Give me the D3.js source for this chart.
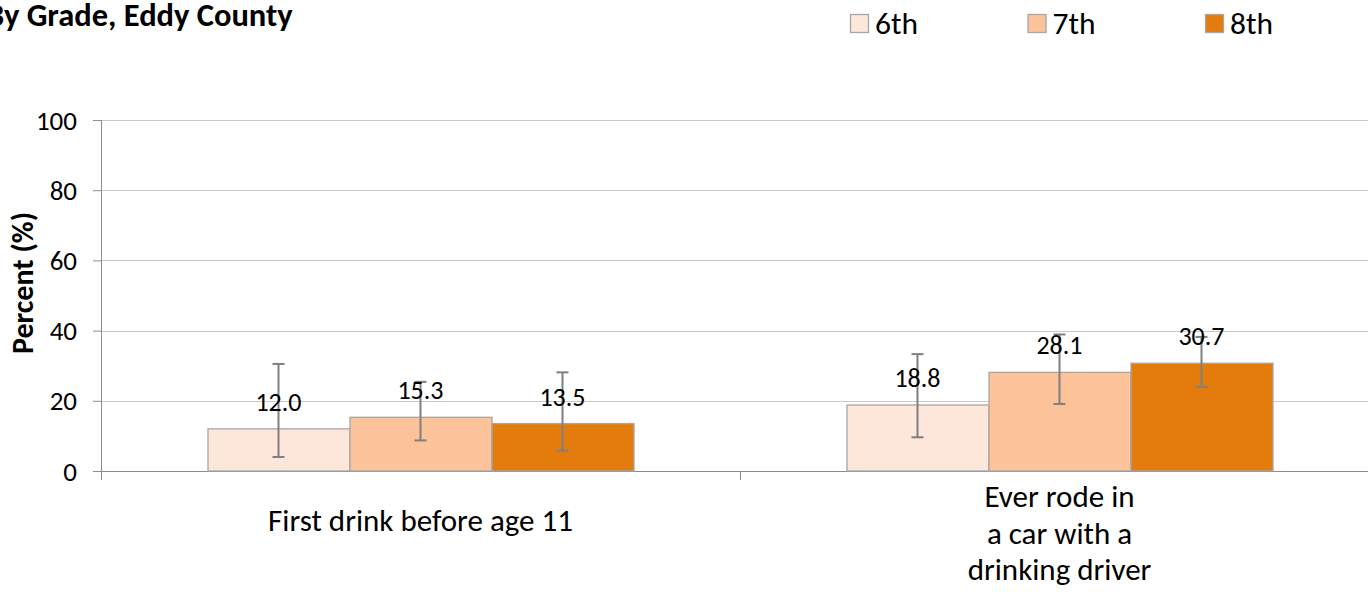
<!DOCTYPE html>
<html>
<head>
<meta charset="utf-8">
<script src="https://cdn.jsdelivr.net/npm/d3@7"></script>
<style>
  body { margin: 0; background: #fff; overflow: hidden; }
  svg text { font-family: Carlito, Calibri, Lato, "Open Sans", sans-serif; fill: #000; }
</style>
</head>
<body>
<div id="chart"></div>
<script>
// data
const categories = ["First drink before age 11", "Ever rode in a car with a drinking driver"];
const categoryLines = [["First drink before age 11"], ["Ever rode in", "a car with a", "drinking driver"]];
const grades = ["6th", "7th", "8th"];
const values = [[12.0, 15.3, 13.5], [18.8, 28.1, 30.7]];
const lowerCI = [[4.0, 8.7, 5.8], [9.6, 19.1, 24.0]];
const upperCI = [[30.5, 25.4, 28.1], [33.3, 38.9, 38.2]];
const yTicks = [0, 20, 40, 60, 80, 100];
const colors = ["#fde6da", "#fcc39a", "#e37c0c"];

const W = 1368, H = 606;
const margin = { top: 120, left: 101, bottom: 135 };
const plotW = 1278, plotH = H - margin.top - margin.bottom;

const svg = d3.select("#chart").append("svg")
    .attr("width", W)
    .attr("height", H);

const g = svg.append("g")
    .attr("transform", "translate(" + margin.left + "," + margin.top + ")");

// scales
const x = d3.scaleBand()
    .domain(categories)
    .range([0, plotW]);

const xInner = d3.scaleBand()
    .domain(grades)
    .range([0, x.bandwidth() * 2 / 3]);

const y = d3.scaleLinear()
    .domain([0, 100])
    .range([plotH, 0]);

// gridlines
g.append("g")
    .selectAll("line")
    .data(yTicks.filter(d => d > 0))
    .join("line")
    .attr("x1", 0)
    .attr("x2", plotW)
    .attr("y1", d => Math.round(y(d)) + 0.5)
    .attr("y2", d => Math.round(y(d)) + 0.5)
    .attr("stroke", "#c8c8c8")
    .attr("stroke-width", 1);

// y axis
const yAxis = d3.axisLeft(y).tickValues(yTicks).tickSize(8).tickPadding(16);
const yG = g.append("g").attr("class", "y-axis").call(yAxis);
yG.select(".domain").attr("stroke", "#8c8c8c").attr("d", "M0.5," + plotH + "V0");
yG.selectAll(".tick line").attr("stroke", "#8c8c8c");
yG.selectAll(".tick text")
    .style("font-size", "27px")
    .attr("dy", "0.34em");

// y axis title
svg.append("text")
    .attr("transform", "translate(33,283) rotate(-90)")
    .attr("text-anchor", "middle")
    .style("font-size", "30px")
    .style("font-weight", "bold")
    .text("Percent (%)");

// x axis
const xG = g.append("g")
    .attr("transform", "translate(0," + plotH + ")");
xG.append("line")
    .attr("x1", 0).attr("x2", plotW)
    .attr("y1", 0.5).attr("y2", 0.5)
    .attr("stroke", "#8c8c8c");
xG.selectAll(".xtick")
    .data([0, 1, 2])
    .join("line")
    .attr("class", "xtick")
    .attr("x1", i => Math.round(i * x.step()) + 0.5)
    .attr("x2", i => Math.round(i * x.step()) + 0.5)
    .attr("y1", 0).attr("y2", 9)
    .attr("stroke", "#8c8c8c");

xG.selectAll(".xlabel")
    .data(categories)
    .join("text")
    .attr("class", "xlabel")
    .attr("text-anchor", "middle")
    .style("font-size", "31px")
    .attr("transform", d => "translate(" + (x(d) + x.bandwidth() / 2) + ",0)")
    .each(function(d, i) {
        const lines = categoryLines[i];
        const startY = lines.length === 1 ? 60 : 36;
        d3.select(this).selectAll("tspan")
            .data(lines)
            .join("tspan")
            .attr("x", 0)
            .attr("y", (l, j) => startY + j * 36.5)
            .text(l => l);
    });

// bars
const rows = [];
categories.forEach((c, ci) => {
    grades.forEach((gr, gi) => {
        rows.push({ cat: c, grade: gr, gi: gi, value: values[ci][gi], lo: lowerCI[ci][gi], hi: upperCI[ci][gi] });
    });
});

const groupOffset = x.bandwidth() / 6;

const groups = g.selectAll(".bar-group")
    .data(rows)
    .join("g")
    .attr("class", "bar-group")
    .attr("transform", d => "translate(" + (x(d.cat) + groupOffset + xInner(d.grade)) + ",0)");

groups.append("rect")
    .attr("x", 0.5)
    .attr("y", d => y(d.value))
    .attr("width", xInner.bandwidth())
    .attr("height", d => plotH - y(d.value))
    .attr("fill", d => colors[d.gi])
    .attr("stroke", "#a6a6a6")
    .attr("stroke-width", 1.3);

// error bars
const cx = xInner.bandwidth() / 2;
groups.append("line")
    .attr("x1", cx).attr("x2", cx)
    .attr("y1", d => y(d.hi)).attr("y2", d => y(d.lo))
    .attr("stroke", "#7f7f7f").attr("stroke-width", 2);
groups.selectAll(".cap")
    .data(d => [d.hi, d.lo])
    .join("line")
    .attr("class", "cap")
    .attr("x1", cx - 6).attr("x2", cx + 6)
    .attr("y1", d => y(d)).attr("y2", d => y(d))
    .attr("stroke", "#7f7f7f").attr("stroke-width", 2);

// value labels
groups.append("text")
    .attr("x", cx)
    .attr("y", d => y(d.value) - 18)
    .attr("text-anchor", "middle")
    .style("font-size", "26px")
    .text(d => d.value.toFixed(1));

// title (cut off at the left edge, as in the reference)
svg.append("text")
    .attr("x", -14)
    .attr("y", 26)
    .style("font-size", "32.5px")
    .style("font-weight", "bold")
    .text("By Grade, Eddy County");

// legend
const legend = svg.append("g").attr("class", "legend");
const legendX = d3.scalePoint().domain(grades).range([850, 1205]);
const items = legend.selectAll("g")
    .data(grades)
    .join("g")
    .attr("transform", d => "translate(" + legendX(d) + ",14)");
items.append("rect")
    .attr("x", 0.5).attr("y", 0.5)
    .attr("width", 18).attr("height", 18)
    .attr("fill", (d, i) => colors[i])
    .attr("stroke", "#a6a6a6")
    .attr("stroke-width", 1.3);
items.append("text")
    .attr("x", 25)
    .attr("y", 20)
    .style("font-size", "31.5px")
    .text(d => d);
</script>
</body>
</html>
